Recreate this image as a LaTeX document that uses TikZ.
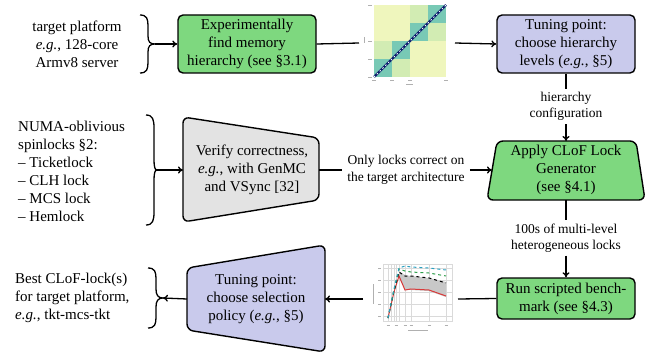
\documentclass[tikz,border=0pt]{standalone}
\usepackage{fontspec}
\setmainfont{Liberation Serif}
\usetikzlibrary{arrows.meta}
\definecolor{boxgreen}{HTML}{7ED87F}
\definecolor{boxblue}{HTML}{C9CAEC}
\definecolor{boxgray}{HTML}{E3E3E3}
\definecolor{hmteal}{HTML}{78C9B5}
\definecolor{hmlight}{HTML}{D2ECB3}
\definecolor{hmyellow}{HTML}{EFF6BD}
\definecolor{hmnavy}{HTML}{0B1F6E}
\definecolor{chcyan}{HTML}{2A9FC0}
\definecolor{chgreen}{HTML}{2E9E4A}
\definecolor{chred}{HTML}{D83A3A}
\definecolor{chband}{HTML}{C8C8C8}
\definecolor{chgrid}{HTML}{DADADA}
\definecolor{tick}{HTML}{B0B0B0}
\begin{document}
\begin{tikzpicture}[x=1pt,y=-1pt,
  conn/.style={line width=1.3pt},
  arr/.style={conn,-{To[length=5pt,width=7pt]}},
  brc/.style={line width=1.3pt},
  box/.style={draw,line width=1.4pt,rounded corners=5pt,minimum width=138pt,
    align=center,inner sep=0pt,font=\fontsize{15}{18}\selectfont},
  tbox/.style={draw,line width=1.4pt,rounded corners=6pt},
  boxtext/.style={align=center,inner sep=0pt,font=\fontsize{15}{18}\selectfont},
  sidetext/.style={inner sep=0pt,font=\fontsize{15}{18}\selectfont},
  lbl/.style={align=center,inner sep=3pt,font=\fontsize{13.5}{16.5}\selectfont},
  img/.style={inner sep=0pt,outer sep=0pt}]
\useasboundingbox (0,0) rectangle (651,353);

% ---------- boxes ----------
\node[box,fill=boxgreen,minimum height=58pt] (b1) at (247,44)
  {Experimentally\\find memory\\hierarchy (see §3.1)};
\node[box,fill=boxblue,minimum height=58pt] (b2) at (566,44)
  {Tuning point:\\choose hierarchy\\levels (\textit{e.g.}, §5)};
\draw[tbox,fill=boxgreen] (497,141) -- (636,141) -- (645,200) -- (487,200) -- cycle;
\node[boxtext] (b3) at (566,170) {Apply CLoF Lock\\Generator\\(see §4.1)};
\coordinate (b3n) at (566,141);
\coordinate (b3s) at (566,200);
\coordinate (b3w) at (492,170);
\node[box,fill=boxgreen,minimum height=41pt] (b4) at (566,298.5)
  {Run scripted bench-\\mark (see §4.3)};
\draw[tbox,fill=boxblue] (187,268) -- (325,245) -- (325,352) -- (187,330) -- cycle;
\node[boxtext] (b5) at (256,299) {Tuning point:\\choose selection\\policy (\textit{e.g.}, §5)};
\coordinate (b5e) at (325,299);
\coordinate (b5w) at (187,299);
\draw[tbox,fill=boxgray] (183,117) -- (319,138) -- (319,200) -- (183,222) -- cycle;
\node[boxtext] (b6) at (252,170) {Verify correctness,\\\textit{e.g.}, with GenMC\\and VSync [32]};
\coordinate (b6e) at (319,170);
\coordinate (b6w) at (183,170);

% ---------- side texts ----------
\node[sidetext,align=center] (t1) at (77,44)
  {target platform\\\textit{e.g.}, 128-core\\Armv8 server};
\node[sidetext,align=left,anchor=west] (t2) at (18,171)
  {NUMA-oblivious\\spinlocks §2:\\– Ticketlock\\– CLH lock\\– MCS lock\\– Hemlock};
\node[sidetext,align=left,anchor=west] (t3) at (15,298)
  {Best CLoF-lock(s)\\for target platform,\\\textit{e.g.}, tkt-mcs-tkt};

% ---------- braces ----------
\coordinate (br1) at (155,44);
\draw[brc] (140,15) .. controls (147,15) and (148,19) .. (148,26)
  -- (148,36) .. controls (148,42) and (150,44) .. (br1)
  .. controls (150,44) and (148,46) .. (148,52)
  -- (148,62) .. controls (148,69) and (147,73) .. (140,73);
\coordinate (br2) at (157,170);
\draw[brc] (146,115) .. controls (153,115) and (154,120) .. (154,128)
  -- (154,160) .. controls (154,167) and (155,170) .. (br2)
  .. controls (155,170) and (154,173) .. (154,180)
  -- (154,212) .. controls (154,220) and (153,225) .. (146,225);
\coordinate (br3) at (163,298);
\draw[brc] (148,268) .. controls (155,268) and (156,272) .. (156,279)
  -- (156,289) .. controls (156,295) and (158,298) .. (br3)
  .. controls (158,298) and (156,301) .. (156,307)
  -- (156,317) .. controls (156,324) and (155,328) .. (148,328);

% ---------- heatmap image ----------
\node[img,minimum width=96pt,minimum height=84pt] (hm) at (407,43) {};
\foreach \r/\c/\col in {0/0/hmyellow,0/1/hmyellow,0/2/hmlight,0/3/hmteal,
  1/0/hmyellow,1/1/hmyellow,1/2/hmteal,1/3/hmlight,
  2/0/hmlight,2/1/hmteal,2/2/hmyellow,2/3/hmyellow,
  3/0/hmteal,3/1/hmlight,3/2/hmyellow,3/3/hmyellow}{
  \fill[\col] ({374+18*\c},{5+18*\r}) rectangle ++(18,18);
}
\draw[hmnavy,line width=2.2pt] (374,77) -- (446,5);
\draw[white,line width=0.8pt,dash pattern=on 1.5pt off 2.5pt] (374,77) -- (446,5);
\foreach \yy in {5,41,59,77} \draw[tick,line width=0.6pt] (368,\yy) -- (372,\yy);
\foreach \xx in {374,392,410,446} \draw[tick,line width=0.6pt] ({\xx-2},80) -- ({\xx+2},80);
\draw[tick,line width=0.6pt] (364,37) -- (364,43);
\draw[tick,line width=0.6pt] (406,84) -- (413,84);

% ---------- chart image ----------
\node[img,minimum width=95pt,minimum height=76pt] (ch) at (410.5,299) {};
\fill[white] (383,264) rectangle (452,321);
\foreach \xx in {388,391,394,396,399,405,411,429,446}
  \draw[chgrid,line width=0.6pt] (\xx,264) -- (\xx,321);
\foreach \yy in {268,280,292,304,316}
  \draw[chgrid,line width=0.6pt] (383,\yy) -- (452,\yy);
\draw[chgrid,line width=0.6pt] (383,264) rectangle (452,321);
\fill[chband] (399,272) -- (405,275) -- (411,276) -- (429,278) -- (446,282)
  -- (446,297) -- (429,291) -- (411,290) -- (405,289) -- (399,278) -- cycle;
\draw[chred,line width=1pt] (388,318) -- (394,292) -- (399,276) -- (405,290)
  -- (411,289) -- (429,290) -- (446,296);
\draw[black,line width=1pt,dashed] (388,318) -- (394,291) -- (399,272) -- (405,276)
  -- (411,276) -- (429,278) -- (446,283);
\draw[chgreen,line width=1pt,dashed] (388,318) -- (394,290) -- (399,269) -- (405,271)
  -- (411,272) -- (429,273) -- (446,276);
\draw[chcyan,line width=1pt,dashed] (388,318) -- (394,289) -- (399,268) -- (405,266)
  -- (411,267) -- (429,268) -- (446,270);
\foreach \yy in {268,280,292,304,316} \draw[tick,line width=0.6pt] (378,\yy) -- (381,\yy);
\foreach \xx in {388,396,405,411,429,446} \draw[tick,line width=0.6pt] ({\xx-1.5},325) -- ({\xx+1.5},325);
\draw[tick,line width=0.6pt] (373,284) -- (373,304);
\draw[tick,line width=0.6pt] (408,330) -- (428,330);

% ---------- connector labels ----------
\node[lbl] (lh) at (566,106.5) {hierarchy\\configuration};
\node[lbl] (lm) at (566,238) {100s of multi-level\\heterogeneous locks};
\node[lbl,inner sep=5pt] (lc) at (406,170) {Only locks correct on\\the target architecture};

% ---------- connectors ----------
\draw[arr] (br1) -- (b1.west);
\draw[conn] (b1.east) -- (hm.west);
\draw[arr] (hm.east) -- (b2.west);
\draw[conn] (b2.south) -- (lh.north);
\draw[arr] (lh.south) -- (b3n);
\draw[conn] (b3s) -- (lm.north);
\draw[arr] (lm.south) -- (b4.north);
\draw[conn] (b4.west) -- (ch.east);
\draw[arr] (ch.west) -- (b5e);
\draw[arr] (b5w) -- (br3);
\draw[arr] (br2) -- (b6w);
\draw[conn] (b6e) -- (lc.west);
\draw[arr] (lc.east) -- (b3w);
\end{tikzpicture}
\end{document}
